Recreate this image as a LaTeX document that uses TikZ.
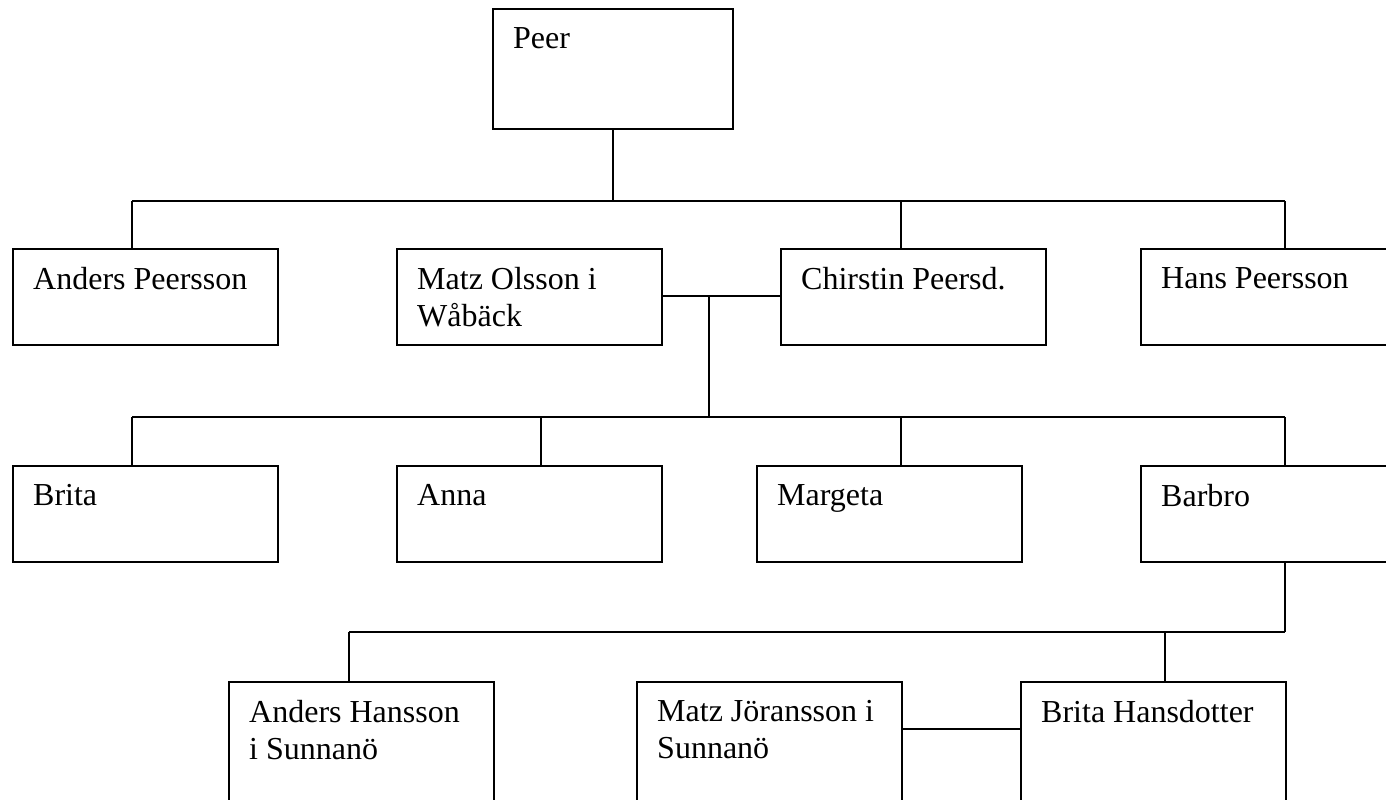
\documentclass[tikz,border=0pt]{standalone}
\usepackage{fontspec}
\setmainfont{Liberation Serif}
\begin{document}
\begin{tikzpicture}[x=1pt,y=-1pt]
		\newcommand{\boxw}{265}
		\newcommand{\boxh}{96}
		\newcommand{\rowa}{248}
		\newcommand{\rowb}{465}
		\newcommand{\rowc}{681}
		\newcommand{\wed}{48} % depth of the marriage lines below the box tops

		% set the style of the boxes, names and lines
		\tikzset{
			person/.style={
				draw,
				line width=2pt,
				minimum width=\boxw pt,
				minimum height=\boxh pt,
				anchor=north west,
				inner sep=0pt
				},
			who/.style={
				anchor=north west,
				inner sep=0pt,
				align=left,
				font=\fontsize{32}{37}\selectfont
				},
			link/.style={
				line width=2pt
				}
		}

		\useasboundingbox (0,0) rectangle (1386,800);
		\clip (0,0) rectangle (1386,800);

		% ancestor
		\node[person, minimum width=240pt, minimum height=120pt] (peer) at (492,8) {};

		% children
		\node[person] (anders) at (12,\rowa) {};
		\node[person] (matz) at (396,\rowa) {};
		\node[person] (chirstin) at (780,\rowa) {};
		\node[person] (hans) at (1140,\rowa) {};

		% grandchildren
		\node[person] (brita) at (12,\rowb) {};
		\node[person] (anna) at (396,\rowb) {};
		\node[person] (margeta) at (756,\rowb) {};
		\node[person] (barbro) at (1140,\rowb) {};

		% great-grandchildren
		\node[person, minimum height=150pt] (andersh) at (228,\rowc) {};
		\node[person, minimum height=150pt] (matzj) at (636,\rowc) {};
		\node[person, minimum height=150pt] (britah) at (1020,\rowc) {};

		% names
		\node[who] (peer-t) at ([shift={(21pt,-19pt)}]peer.north west) {Peer};
		\node[who] (anders-t) at ([shift={(21pt,-19pt)}]anders.north west) {Anders Peersson};
		\node[who] (matz-t) at ([shift={(21pt,-19pt)}]matz.north west) {Matz Olsson i\\Wåbäck};
		\node[who] (chirstin-t) at ([shift={(21pt,-19pt)}]chirstin.north west) {Chirstin Peersd.};
		\node[who] (hans-t) at ([shift={(21pt,-19pt)}]hans.north west) {Hans Peersson};
		\node[who] (brita-t) at ([shift={(21pt,-19pt)}]brita.north west) {Brita};
		\node[who] (anna-t) at ([shift={(21pt,-19pt)}]anna.north west) {Anna};
		\node[who] (margeta-t) at ([shift={(21pt,-19pt)}]margeta.north west) {Margeta};
		\node[who] (barbro-t) at ([shift={(21pt,-19pt)}]barbro.north west) {Barbro};
		\node[who] (andersh-t) at ([shift={(21pt,-19pt)}]andersh.north west) {Anders Hansson\\i Sunnanö};
		\node[who] (matzj-t) at ([shift={(21pt,-19pt)}]matzj.north west) {Matz Jöransson i\\Sunnanö};
		\node[who] (britah-t) at ([shift={(21pt,-19pt)}]britah.north west) {Brita Hansdotter};

		% first bar
		\coordinate (g1l) at (132,201);
		\coordinate (g1m) at (901,201);
		\coordinate (g1r) at (1285,201);
		\draw[link] (peer.south) -- (peer.south |- g1l);
		\draw[link] (g1l) -- (g1r);
		\draw[link] (g1l) -- (g1l |- anders.north);
		\draw[link] (g1m) -- (g1m |- chirstin.north);
		\draw[link] (g1r) -- (g1r |- hans.north);

		% marriage and second bar
		\coordinate (g2l) at (132,417);
		\coordinate (g2a) at (541,417);
		\coordinate (g2c) at (709,417);
		\coordinate (g2m) at (901,417);
		\coordinate (g2r) at (1285,417);
		\draw[link] ([yshift=-\wed pt]matz.north east) -- ([yshift=-\wed pt]chirstin.north west);
		\draw[link] (g2c |- matz.east) -- (g2c);
		\draw[link] (g2l) -- (g2r);
		\draw[link] (g2l) -- (g2l |- brita.north);
		\draw[link] (g2a) -- (g2a |- anna.north);
		\draw[link] (g2m) -- (g2m |- margeta.north);
		\draw[link] (g2r) -- (g2r |- barbro.north);

		% third bar
		\coordinate (g3l) at (349,632);
		\coordinate (g3b) at (1165,632);
		\coordinate (g3r) at (1285,632);
		\draw[link] (g2r |- barbro.south) -- (g3r);
		\draw[link] (g3l) -- (g3r);
		\draw[link] (g3l) -- (g3l |- andersh.north);
		\draw[link] (g3b) -- (g3b |- britah.north);
		\draw[link] ([yshift=-\wed pt]matzj.north east) -- ([yshift=-\wed pt]britah.north west);
\end{tikzpicture}
\end{document}
